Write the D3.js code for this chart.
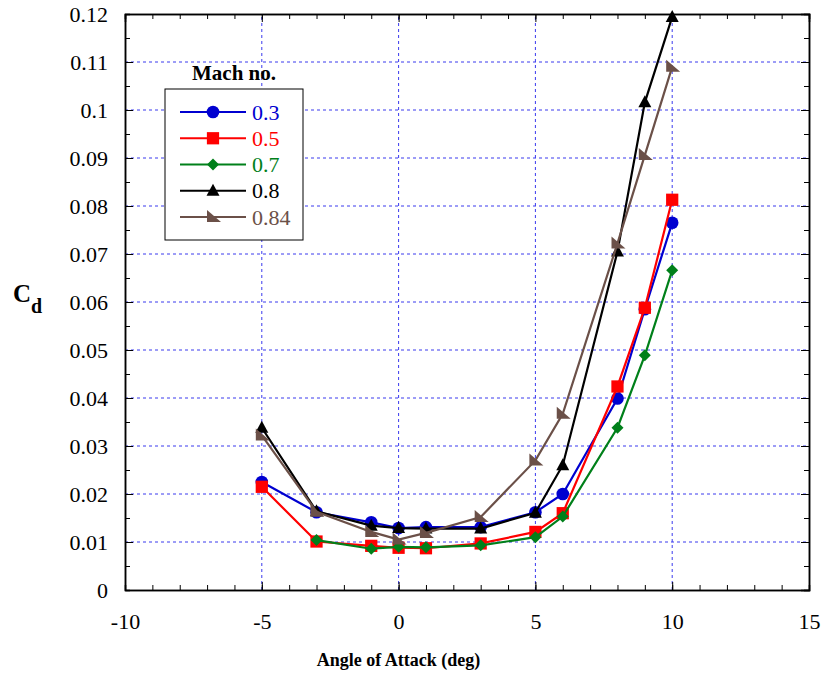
<!DOCTYPE html>
<html>
<head>
<meta charset="utf-8">
<script src="https://cdn.jsdelivr.net/npm/d3@7"></script>
<style>
  body { margin: 0; background: #fff; }
</style>
</head>
<body>
<svg id="chart"></svg>
<script>
// data
const alpha = [-5, -3, -1, 0, 1, 3, 5, 6, 8, 9, 10];
const alphaGreen = [-3, -1, 0, 1, 3, 5, 6, 8, 9, 10];
const cdM03 = [0.0225, 0.0162, 0.0141, 0.0129, 0.0131, 0.0131, 0.0162, 0.0200, 0.0399, 0.0585, 0.0765];
const cdM05 = [0.0215, 0.0101, 0.0092, 0.0088, 0.0087, 0.0097, 0.0121, 0.0160, 0.0424, 0.0588, 0.0813];
const cdM07 = [0.0104, 0.0086, 0.0090, 0.0089, 0.0093, 0.0110, 0.0153, 0.0338, 0.0489, 0.0666];
const cdM08 = [0.0338, 0.0164, 0.0134, 0.0129, 0.0128, 0.0128, 0.0161, 0.0260, 0.0705, 0.1016, 0.1194];
const cdM084 = [0.0322, 0.0163, 0.0121, 0.0105, 0.0119, 0.0152, 0.0270, 0.0367, 0.0722, 0.0906, 0.1090];
const machLabels = ["0.3", "0.5", "0.7", "0.8", "0.84"];
const xTicks = [-10, -5, 0, 5, 10, 15];
const yTicks = [0, 0.01, 0.02, 0.03, 0.04, 0.05, 0.06, 0.07, 0.08, 0.09, 0.1, 0.11, 0.12];
const yTickLabels = ["0", "0.01", "0.02", "0.03", "0.04", "0.05", "0.06", "0.07", "0.08", "0.09", "0.1", "0.11", "0.12"];

const width = 824;
const height = 676;
const margin = { top: 14, right: 15, bottom: 86, left: 125 };
const serif = "'Liberation Serif', 'Times New Roman', serif";

const svg = d3.select("#chart").attr("width", width).attr("height", height);

const x = d3.scaleLinear().domain([-10, 15]).range([margin.left, width - margin.right]);
const y = d3.scaleLinear().domain([0, 0.12]).range([height - margin.bottom, margin.top]);

const series = [
  { label: machLabels[0], xs: alpha, ys: cdM03, color: "#0000d0", shape: "circle" },
  { label: machLabels[1], xs: alpha, ys: cdM05, color: "#ff0000", shape: "square" },
  { label: machLabels[2], xs: alphaGreen, ys: cdM07, color: "#00801a", shape: "diamond" },
  { label: machLabels[3], xs: alpha, ys: cdM08, color: "#000000", shape: "triangle" },
  { label: machLabels[4], xs: alpha, ys: cdM084, color: "#6b5048", shape: "rtri" },
];

// grid
const grid = svg.append("g").attr("stroke", "#3a3aee").attr("stroke-width", 1).attr("stroke-dasharray", "3,3");
grid.selectAll(".gy")
  .data(yTicks.slice(1, -1))
  .join("line")
  .attr("x1", x(-10)).attr("x2", x(15))
  .attr("y1", (d) => y(d)).attr("y2", (d) => y(d));
grid.selectAll(".gx")
  .data(xTicks.slice(1, -1))
  .join("line")
  .attr("y1", y(0)).attr("y2", y(0.12))
  .attr("x1", (d) => x(d)).attr("x2", (d) => x(d));

// axes
const fmtY = (d) => yTickLabels[yTicks.indexOf(d)];
const minorX = d3.range(-10, 15.01, 1);
const minorY = d3.range(0, 0.1201, 0.005);

function styleAxis(g) {
  g.attr("font-family", serif).attr("font-size", 22);
  g.select(".domain").attr("stroke", "#000").attr("stroke-width", 1.5);
  g.selectAll("line").attr("stroke", "#000");
  g.selectAll("text")
    .style("font-family", serif)
    .style("font-size", "22px")
    .attr("fill", "#000");
}

svg.append("g")
  .attr("transform", `translate(0,${y(0)})`)
  .call(d3.axisBottom(x).tickValues(minorX).tickSize(-5).tickFormat(""))
  .call(styleAxis);
svg.append("g")
  .attr("transform", `translate(0,${y(0)})`)
  .call(d3.axisBottom(x).tickValues(xTicks).tickSizeInner(-8).tickSizeOuter(0).tickPadding(23).tickFormat((d) => String(d)))
  .call(styleAxis);
svg.append("g")
  .attr("transform", `translate(0,${y(0.12)})`)
  .call(d3.axisTop(x).tickValues(minorX).tickSize(-5).tickFormat(""))
  .call(styleAxis);
svg.append("g")
  .attr("transform", `translate(0,${y(0.12)})`)
  .call(d3.axisTop(x).tickValues(xTicks).tickSize(-8).tickFormat(""))
  .call(styleAxis);

svg.append("g")
  .attr("transform", `translate(${x(-10)},0)`)
  .call(d3.axisLeft(y).tickValues(minorY).tickSize(-5).tickFormat(""))
  .call(styleAxis);
svg.append("g")
  .attr("transform", `translate(${x(-10)},0)`)
  .call(d3.axisLeft(y).tickValues(yTicks).tickSizeInner(-8).tickSizeOuter(0).tickPadding(17).tickFormat(fmtY))
  .call(styleAxis);
svg.append("g")
  .attr("transform", `translate(${x(15)},0)`)
  .call(d3.axisRight(y).tickValues(minorY).tickSize(-5).tickFormat(""))
  .call(styleAxis);
svg.append("g")
  .attr("transform", `translate(${x(15)},0)`)
  .call(d3.axisRight(y).tickValues(yTicks).tickSize(-8).tickFormat(""))
  .call(styleAxis);

// axis titles
svg.append("text")
  .attr("x", x(0))
  .attr("y", 666)
  .attr("text-anchor", "middle")
  .style("font-family", serif)
  .style("font-size", "18px")
  .style("font-weight", "bold")
  .text("Angle of Attack (deg)");

const yl = svg.append("text")
  .attr("x", 13)
  .attr("y", 302)
  .style("font-family", serif)
  .style("font-size", "25px")
  .style("font-weight", "bold");
yl.append("tspan").text("C");
yl.append("tspan").attr("dy", 11).style("font-size", "20px").text("d");

// markers
function markerPath(shape) {
  if (shape === "circle") return d3.symbol(d3.symbolCircle, 125)();
  if (shape === "square") return d3.symbol(d3.symbolSquare, 150)();
  if (shape === "diamond") return "M0,-6L6,0L0,6L-6,0Z";
  if (shape === "triangle") return "M0,-7L6.5,5L-6.5,5Z";
  return "M-6,-7L8,5L-6,5Z";
}

const line = d3.line().x((d) => x(d[0])).y((d) => y(d[1]));

series.forEach((s) => {
  const pts = s.xs.map((a, i) => [a, s.ys[i]]);
  const g = svg.append("g");
  g.append("path")
    .datum(pts)
    .attr("d", line)
    .attr("fill", "none")
    .attr("stroke", s.color)
    .attr("stroke-width", 2.2);
  g.selectAll("path.m")
    .data(pts)
    .join("path")
    .attr("class", "m")
    .attr("d", markerPath(s.shape))
    .attr("transform", (d) => `translate(${x(d[0])},${y(d[1])})`)
    .attr("fill", s.color);
});

// legend
const legend = svg.append("g").attr("transform", "translate(165,89)");
legend.append("rect")
  .attr("width", 138).attr("height", 151)
  .attr("fill", "#fff").attr("stroke", "#000").attr("stroke-width", 1);
svg.append("text")
  .attr("x", 234).attr("y", 80)
  .attr("text-anchor", "middle")
  .style("font-family", serif)
  .style("font-size", "21px").style("font-weight", "bold")
  .text("Mach no.");

const ly = d3.scalePoint().domain(machLabels).range([23, 128]);
const item = legend.selectAll("g.item")
  .data(series)
  .join("g")
  .attr("class", "item")
  .attr("transform", (d) => `translate(0,${ly(d.label)})`);
item.append("line")
  .attr("x1", 15).attr("x2", 81)
  .attr("stroke", (d) => d.color).attr("stroke-width", 2.2);
item.append("path")
  .attr("d", (d) => markerPath(d.shape))
  .attr("transform", "translate(48,0)")
  .attr("fill", (d) => d.color);
item.append("text")
  .attr("x", 87).attr("dy", "0.35em")
  .style("font-family", serif)
  .style("font-size", "22px")
  .attr("fill", (d) => d.color)
  .text((d) => d.label);
</script>
</body>
</html>
